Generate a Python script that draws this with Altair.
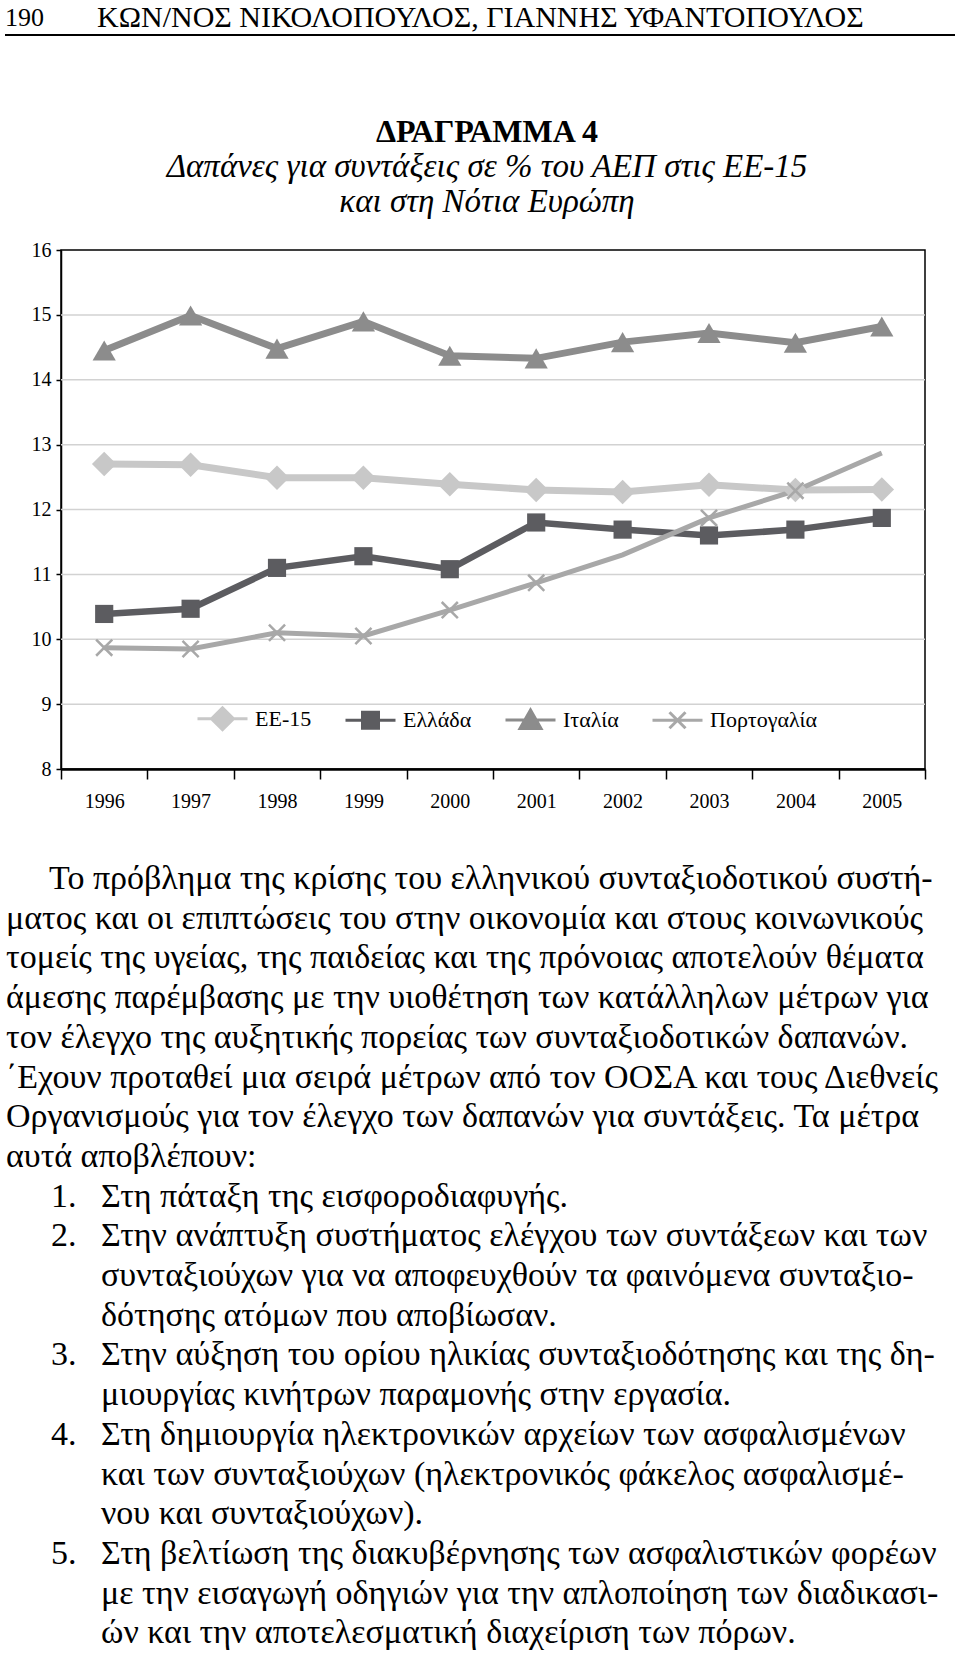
import altair as alt
import pandas as pd

# ---------------- data ----------------
years = ["1996", "1997", "1998", "1999", "2000", "2001", "2002", "2003", "2004", "2005"]
series_names = ["ΕΕ-15", "Ελλάδα", "Ιταλία", "Πορτογαλία"]
ee15 = [12.70, 12.69, 12.49, 12.49, 12.39, 12.30, 12.27, 12.38, 12.30, 12.31]
greece = [10.39, 10.47, 11.10, 11.28, 11.08, 11.80, 11.69, 11.60, 11.69, 11.87]
italy = [14.45, 14.99, 14.48, 14.90, 14.37, 14.33, 14.58, 14.72, 14.57, 14.82]
portugal = [9.87, 9.85, 10.10, 10.05, 10.45, 10.87, 11.30, 11.87, 12.29, 12.87]
portugal_unmarked_years = ["2002", "2005"]
y_ticks = [8, 9, 10, 11, 12, 13, 14, 15, 16]
grid_values = [9, 10, 11, 12, 13, 14, 15]

header_page = "190"
header_authors = "ΚΩΝ/ΝΟΣ ΝΙΚΟΛΟΠΟΥΛΟΣ, ΓΙΑΝΝΗΣ ΥΦΑΝΤΟΠΟΥΛΟΣ"
title_text = "ΔΡΑΓΡΑΜΜΑ 4"
subtitle_lines = ["Δαπάνες για συντάξεις σε % του ΑΕΠ στις ΕΕ-15", "και στη Νότια Ευρώπη"]

body_kinds = ["indent", "para", "para", "para", "para", "para", "para", "para",
              "item", "item", "item", "item", "item", "item", "item", "item", "item",
              "item", "item", "item"]
body_nums = ["", "", "", "", "", "", "", "",
             "1.", "2.", "", "", "3.", "", "4.", "", "", "5.", "", ""]
body_texts = [
    "Το πρόβλημα της κρίσης του ελληνικού συνταξιοδοτικού συστή-",
    "ματος και οι επιπτώσεις του στην οικονομία και στους κοινωνικούς",
    "τομείς της υγείας, της παιδείας και της πρόνοιας αποτελούν θέματα",
    "άμεσης παρέμβασης με την υιοθέτηση των κατάλληλων μέτρων για",
    "τον έλεγχο της αυξητικής πορείας των συνταξιοδοτικών δαπανών.",
    "΄Εχουν προταθεί μια σειρά μέτρων από τον ΟΟΣΑ και τους Διεθνείς",
    "Οργανισμούς για τον έλεγχο των δαπανών για συντάξεις. Τα μέτρα",
    "αυτά αποβλέπουν:",
    "Στη πάταξη της εισφοροδιαφυγής.",
    "Στην ανάπτυξη συστήματος ελέγχου των συντάξεων και των",
    "συνταξιούχων για να αποφευχθούν τα φαινόμενα συνταξιο-",
    "δότησης ατόμων που αποβίωσαν.",
    "Στην αύξηση του ορίου ηλικίας συνταξιοδότησης και της δη-",
    "μιουργίας κινήτρων παραμονής στην εργασία.",
    "\u00a0Στη δημιουργία ηλεκτρονικών αρχείων των ασφαλισμένων",
    "και των συνταξιούχων (ηλεκτρονικός φάκελος ασφαλισμέ-",
    "νου και συνταξιούχων).",
    "Στη βελτίωση της διακυβέρνησης των ασφαλιστικών φορέων",
    "με την εισαγωγή οδηγιών για την απλοποίηση των διαδικασι-",
    "ών και την αποτελεσματική διαχείριση των πόρων.",
]

# ---------------- styles ----------------
SERIF = "Liberation Serif"
series_colors = ["#c8c8c8", "#5c5c60", "#8c8c8c", "#a8a8a8"]
series_widths = [7, 6.5, 7, 5]
marker_shapes = ["diamond", "square", "triangle-up", "M-1,-1L1,1M-1,1L1,-1"]
marker_sizes = [600, 330, 540, 260]
legend_paths = [
    "M-2.5,0H2.5M-1.1,0L0,-1.1L1.1,0L0,1.1Z",
    "M-2.5,0H2.5M-0.8,-0.8H0.8V0.8H-0.8Z",
    "M-2.5,0H2.5M0,-1L1.05,0.85H-1.05Z",
    "M-2.5,0H2.5M-0.8,-0.8L0.8,0.8M-0.8,0.8L0.8,-0.8",
]
PLOT_W, PLOT_H = 864, 519
BODY_Y0, BODY_STEP, BODY_FS = 629, 39.7, 34

rows = []
for name, vals in zip(series_names, [ee15, greece, italy, portugal]):
    for yr, v in zip(years, vals):
        rows.append({"year": yr, "series": name, "value": v})
df = pd.DataFrame(rows)

X = alt.X(
    "year:O",
    scale=alt.Scale(type="band", domain=years, paddingInner=0, paddingOuter=0),
    axis=alt.Axis(title=None, labelAngle=0, tickBand="extent", ticks=True, tickSize=10,
                  tickColor="black", tickWidth=1.5, domainColor="black", domainWidth=2.5,
                  labelFont=SERIF, labelFontSize=20, labelColor="black", labelPadding=12,
                  grid=False),
)
Y = alt.Y(
    "value:Q",
    scale=alt.Scale(domain=[8, 16], nice=False, zero=False),
    axis=alt.Axis(title=None, values=y_ticks, format="d", tickSize=5, tickColor="black",
                  tickWidth=1.5, domainColor="black", domainWidth=1.5, labelFont=SERIF,
                  labelFontSize=20, labelColor="black", labelPadding=5, grid=False),
)

grid = alt.Chart(pd.DataFrame({"g": grid_values})).mark_rule(
    color="#d2d2d2", strokeWidth=1.5
).encode(y=alt.Y("g:Q", scale=alt.Scale(domain=[8, 16], nice=False, zero=False)))

line_layers = []
point_layers = []
for i, name in enumerate(series_names):
    sub = alt.Chart(df).transform_filter(alt.datum.series == name)
    line_layers.append(
        sub.mark_line(color=series_colors[i], strokeWidth=series_widths[i]).encode(x=X, y=Y)
    )
    psub = sub
    if name == "Πορτογαλία":
        psub = psub.transform_filter(
            "indexof(" + str(portugal_unmarked_years).replace("'", '"') + ", datum.year) < 0"
        )
        mk = psub.mark_point(filled=False, shape=marker_shapes[i], size=marker_sizes[i],
                             color=series_colors[i], strokeWidth=2.5, opacity=1)
    else:
        mk = psub.mark_point(filled=True, shape=marker_shapes[i], size=marker_sizes[i],
                             color=series_colors[i], opacity=1)
    point_layers.append(mk.encode(x=X, y=Y))

leg = alt.Legend(title=None, orient="none", legendX=150, legendY=457, direction="horizontal",
                 symbolSize=400, symbolStrokeWidth=3, symbolOpacity=1,
                 labelFont=SERIF, labelFontSize=22, labelColor="black", labelOffset=21,
                 columnPadding=27)
legend_layer = alt.Chart(df).transform_filter(alt.datum.value < 0).mark_point(
    filled=True, opacity=1
).encode(
    x=X, y=Y,
    fill=alt.Fill("series:N", scale=alt.Scale(domain=series_names, range=series_colors), legend=leg),
    stroke=alt.Stroke("series:N", scale=alt.Scale(domain=series_names, range=series_colors), legend=leg),
    shape=alt.Shape("series:N", scale=alt.Scale(domain=series_names, range=legend_paths), legend=leg),
)

one = pd.DataFrame({"k": [0]})


def label(text, x, y, size, align="left", weight="normal", style="normal"):
    return alt.Chart(one).mark_text(
        text=text, align=align, baseline="middle", font=SERIF, fontSize=size,
        fontWeight=weight, fontStyle=style, color="black"
    ).encode(x=alt.value(x), y=alt.value(y))


hdr_page = label(header_page, -56, -232, 26)
hdr_auth = label(header_authors, 36, -232, 30)
hdr_rule = alt.Chart(one).mark_rule(color="black", strokeWidth=2).encode(
    x=alt.value(-56), x2=alt.value(894), y=alt.value(-215)
)
ttl = label(title_text, 426, -118, 32, align="center", weight="bold")
sub1 = label(subtitle_lines[0], 426, -83, 33, align="center", style="italic")
sub2 = label(subtitle_lines[1], 426, -48, 33, align="center", style="italic")

body_df = pd.DataFrame({"row": list(range(len(body_texts))), "kind": body_kinds,
                        "num": body_nums, "text": body_texts})


def body(kind, xpx, field="text"):
    ch = alt.Chart(body_df)
    if kind == "num":
        ch = ch.transform_filter("datum.num != ''")
    else:
        ch = ch.transform_filter(alt.datum.kind == kind)
    return ch.transform_calculate(py=f"{BODY_Y0} + datum.row * {BODY_STEP}").mark_text(
        align="left", baseline="middle", font=SERIF, fontSize=BODY_FS, color="black"
    ).encode(x=alt.value(xpx), y=alt.Y("py:Q", scale=None), text=f"{field}:N")


b_indent = body("indent", -12)
b_para = body("para", -55)
b_item = body("item", 40)
b_num = body("num", -10, field="num")

chart = alt.layer(
    grid, *line_layers, *point_layers, legend_layer,
    hdr_page, hdr_auth, hdr_rule, ttl, sub1, sub2,
    b_indent, b_para, b_item, b_num,
).properties(
    width=PLOT_W, height=PLOT_H,
    padding={"left": 61, "top": 250, "right": 35, "bottom": 887},
    autosize=alt.AutoSizeParams(type="none"),
    background="white",
).configure_view(stroke="black", strokeWidth=1.5)

chart.save("out.html", embed_options={"renderer": "svg", "actions": False})
